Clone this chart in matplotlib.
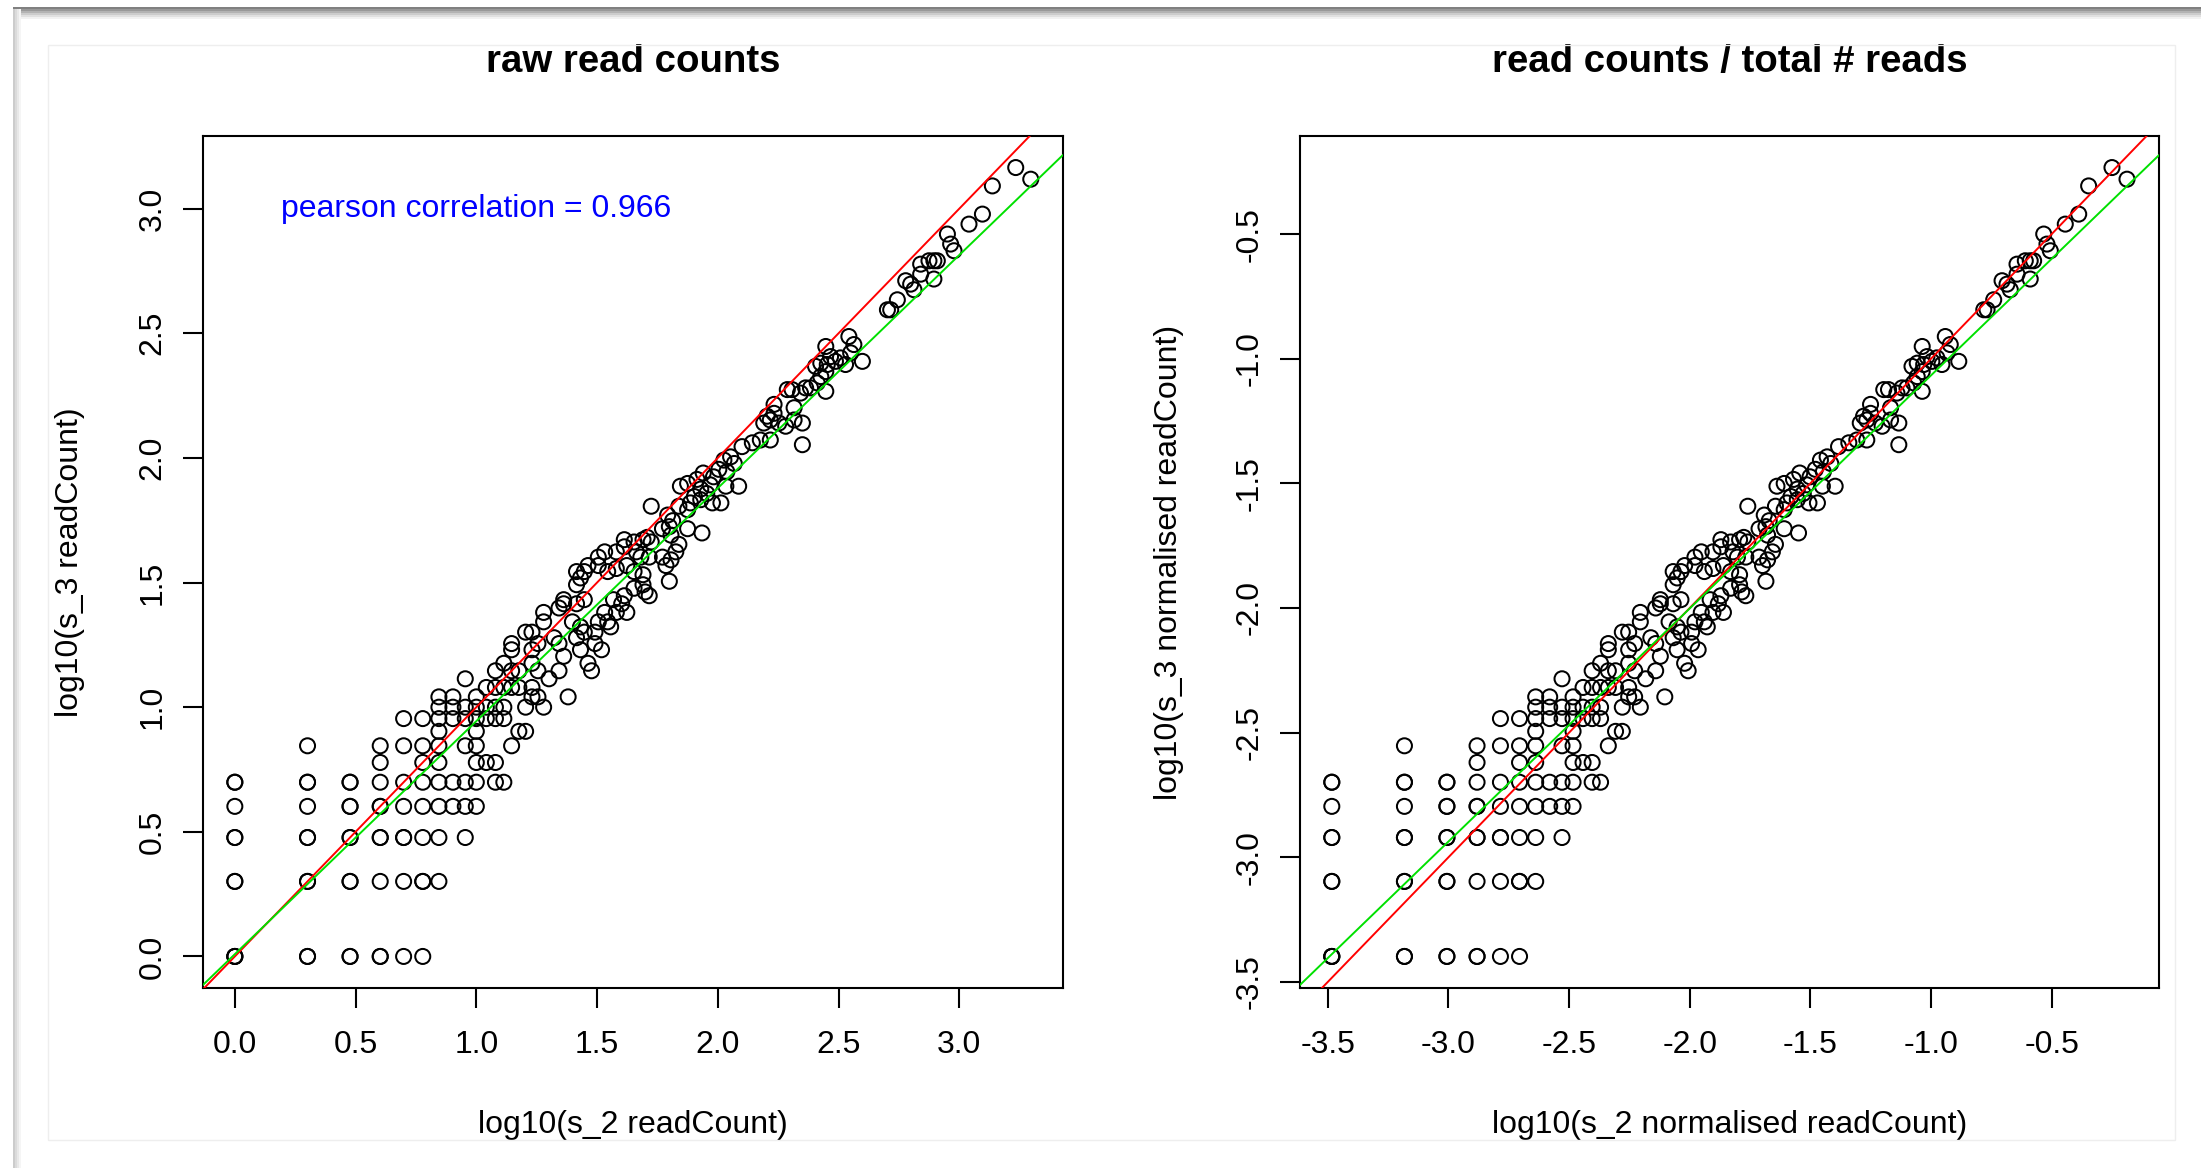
import numpy as np
import matplotlib.pyplot as plt
from matplotlib.patches import Rectangle

plt.rcParams['font.family'] = ['Liberation Sans', 'DejaVu Sans']

# read counts per gene for the two samples
s2_counts = [
    # low counts, one row per s_3 value
    1, 2, 3, 4, 5, 6,
    1, 2, 3, 4, 5, 6, 7,
    1, 2, 3, 4, 5, 6, 7, 9,
    1, 2, 3, 4, 5, 6, 7, 8, 9, 10,
    1, 2, 3, 4, 5, 6, 7, 8, 9, 10, 12, 13,
    4, 6, 7, 10, 11, 12,
    2, 4, 5, 6, 7, 9, 10, 14,
    7, 10, 15, 16,
    5, 6, 7, 8, 9, 10, 11, 12, 13,
    7, 8, 9, 10, 11, 12, 13, 16, 19,
    7, 8, 10, 17, 18, 24,
    11, 12, 13, 14, 15, 17,
    9, 20,
    12, 14, 15, 18, 22, 30,
    13, 17, 29,
    23,
    14, 17, 27, 33,
    14, 18, 22,
    21, 26,
    16, 17, 28,
    27,
    19, 25,
    19,
    22,
    23, 26,
    23, 28,
    26,
    27,
    26, 28,
    29,
    # middle
    31, 31, 32, 35, 36, 34, 38, 40, 42, 37,
    41, 45, 49, 50, 52, 49, 45, 42, 38, 35,
    32, 32, 34, 38, 41, 41, 45, 49, 51, 53,
    46, 48, 52, 59, 61, 64, 67, 69, 64, 59,
    63, 65, 75, 86, 63, 53, 62, 69, 75, 77,
    70, 75, 82, 85, 90, 95, 93, 96, 87, 101,
    85, 80,
    # upper middle
    103, 108, 109, 117, 122, 113, 106, 126, 139, 150,
    165, 155, 165, 171, 160, 171, 179, 191, 207, 224,
    207, 224, 194, 203, 220, 231, 242, 258, 267, 280,
    284, 267, 254, 280, 293, 307, 322, 338, 355, 349,
    366, 397, 280, 504, 520, 554, 649,
    # high counts
    600, 629, 692, 692, 749, 785, 811, 785, 893, 921,
    951, 1097, 1247, 1371, 1713, 1977,
    # repeated low-count genes
    1, 1, 2, 3, 4, 1, 2, 3, 6, 1,
    2, 3, 4, 5, 1, 2, 3, 3, 4,
]
s3_counts = [
    1, 1, 1, 1, 1, 1,
    2, 2, 2, 2, 2, 2, 2,
    3, 3, 3, 3, 3, 3, 3, 3,
    4, 4, 4, 4, 4, 4, 4, 4, 4, 4,
    5, 5, 5, 5, 5, 5, 5, 5, 5, 5, 5, 5,
    6, 6, 6, 6, 6, 6,
    7, 7, 7, 7, 7, 7, 7, 7,
    8, 8, 8, 8,
    9, 9, 9, 9, 9, 9, 9, 9, 9,
    10, 10, 10, 10, 10, 10, 10, 10, 10,
    11, 11, 11, 11, 11, 11,
    12, 12, 12, 12, 12, 12,
    13, 13,
    14, 14, 14, 14, 14, 14,
    15, 15, 15,
    16,
    17, 17, 17, 17,
    18, 18, 18,
    19, 19,
    20, 20, 20,
    21,
    22, 22,
    24,
    25,
    26, 26,
    27, 27,
    31,
    33,
    35, 35,
    37,
    18, 20, 22, 22, 21, 24, 24, 26, 24, 27,
    28, 30, 31, 29, 28, 34, 35, 37, 36, 35,
    37, 40, 42, 42, 44, 47, 46, 47, 48, 46,
    42, 40, 40, 40, 37, 39, 42, 45, 49, 52,
    53, 56, 52, 50, 32, 64, 59, 64, 62, 66,
    77, 79, 82, 75, 72, 66, 78, 84, 87, 90,
    68, 70,
    66, 77, 88, 95, 77, 101, 98, 111, 115, 118,
    118, 138, 142, 151, 147, 164, 138, 134, 142, 138,
    159, 113, 188, 188, 182, 191, 191, 200, 212, 222,
    237, 240, 233, 185, 255, 244, 252, 237, 264, 307,
    285, 244, 280, 393, 393, 431, 473,
    514, 498, 546, 599, 618, 618, 618, 522, 791, 721,
    678, 867, 951, 1234, 1462, 1313,
    1, 1, 1, 1, 1, 2, 2, 2, 2, 3,
    3, 3, 3, 3, 5, 5, 5, 4, 4,
]

total_s2 = 3045
total_s3 = 2500

# fitted line (green) and correlation as shown on the plot
fit_intercept = 0.009
fit_slope = 0.935
pearson_r = 0.966

s2 = np.array(s2_counts, dtype=float)
s3 = np.array(s3_counts, dtype=float)
x_raw, y_raw = np.log10(s2), np.log10(s3)
x_norm, y_norm = np.log10(s2 / total_s2), np.log10(s3 / total_s3)
norm_intercept = fit_intercept + fit_slope * np.log10(total_s2) - np.log10(total_s3)

fig = plt.figure(figsize=(22.01, 11.68), dpi=100)

# screenshot frame
fig.patches.append(Rectangle((48 / 2201, 1 - 1140 / 1168), 2127 / 2201, 1095 / 1168,
                             transform=fig.transFigure, fill=False,
                             edgecolor='#eeeeee', lw=1))
for i, g in enumerate([0.5, 0.6, 0.7, 0.8, 0.88, 0.95]):
    fig.patches.append(Rectangle((13 / 2201, 1 - (9 + 2 * i) / 1168), 1, 2 / 1168,
                                 transform=fig.transFigure, color=str(g), lw=0))
for i, g in enumerate([0.8, 0.86, 0.91, 0.96]):
    fig.patches.append(Rectangle(((13 + 2 * i) / 2201, 0), 2 / 2201, 1 - 9 / 1168,
                                 transform=fig.transFigure, color=str(g), lw=0))

ax1 = fig.add_axes([0.09223, 0.15411, 0.39055, 0.72945])
ax2 = fig.add_axes([0.59064, 0.15411, 0.39019, 0.72945])

FS = 23


def panel(ax, x, y, b0, title, xlab, ylab, xticks, yticks, ylab_x):
    ax.scatter(x, y, s=117, facecolors='none', edgecolors='black', linewidths=1.45, zorder=2)
    # R style axis ranges: data range + 4%
    rx = x.max() - x.min()
    ry = y.max() - y.min()
    ax.set_xlim(x.min() - 0.04 * rx, x.max() + 0.04 * rx)
    ax.set_ylim(y.min() - 0.04 * ry, y.max() + 0.04 * ry)
    ax.axline((0, 0), slope=1, color='red', lw=1.4, zorder=3)
    ax.axline((0, b0), slope=fit_slope, color='#00e000', lw=1.4, zorder=3)

    ax.set_xticks(xticks, labels=['%.1f' % v for v in xticks])
    ax.set_yticks(yticks, labels=['%.1f' % v for v in yticks], rotation=90, va='center')
    ax.tick_params(direction='out', length=14.4, width=1.5, labelsize=FS)
    ax.tick_params(axis='x', pad=16)
    ax.tick_params(axis='y', pad=11)
    for sp in ax.spines.values():
        sp.set_linewidth(1.5)

    ax.set_title(title, fontsize=27.6, fontweight='bold', pad=46)
    ax.set_xlabel(xlab, fontsize=FS, va='center')
    ax.xaxis.set_label_coords(0.5, -(1125 - 988) / 852)
    ax.set_ylabel(ylab, fontsize=FS, va='center')
    ax.yaxis.set_label_coords(ylab_x, 0.5)


panel(ax1, x_raw, y_raw, fit_intercept, 'raw read counts',
      'log10(s_2 readCount)', 'log10(s_3 readCount)',
      [0.0, 0.5, 1.0, 1.5, 2.0, 2.5, 3.0], [0.0, 0.5, 1.0, 1.5, 2.0, 2.5, 3.0],
      -(203 - 70) / 859.6)
ax1.text(1.0, 3.0, 'pearson correlation = %.3f' % pearson_r, color='blue',
         fontsize=FS, ha='center', va='center')

panel(ax2, x_norm, y_norm, norm_intercept, 'read counts / total # reads',
      'log10(s_2 normalised readCount)', 'log10(s_3 normalised readCount)',
      [-3.5, -3.0, -2.5, -2.0, -1.5, -1.0, -0.5], [-3.5, -3.0, -2.5, -2.0, -1.5, -1.0, -0.5],
      -(1300 - 1169) / 858.8)

fig.savefig('out.png', dpi=100)
